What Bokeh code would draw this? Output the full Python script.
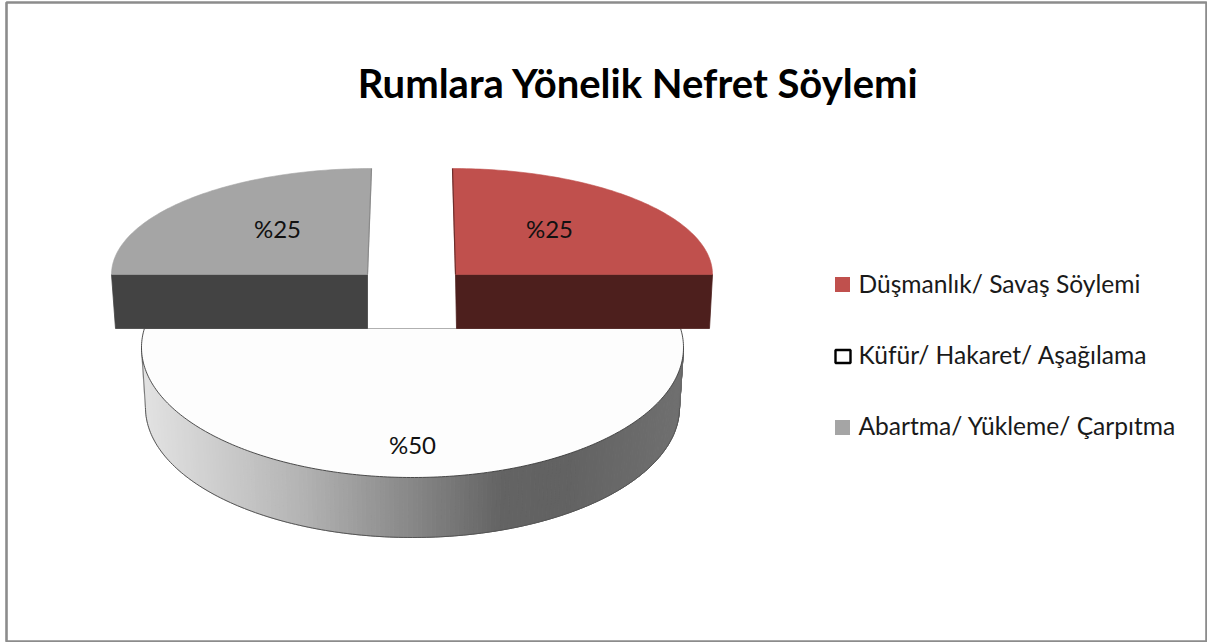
import numpy as np
from bokeh.plotting import figure
from bokeh.models import Range1d
from bokeh.core.properties import value
from bokeh.embed import file_html
from bokeh.resources import INLINE

title_text = "Rumlara Yönelik Nefret Söylemi"
categories = ["Düşmanlık/ Savaş Söylemi", "Küfür/ Hakaret/ Aşağılama", "Abartma/ Yükleme/ Çarpıtma"]
percent_values = [25, 50, 25]
percent_labels = ["%25", "%50", "%25"]

FONT = value("Lato")
W, H = 1207, 642
p = figure(width=W, height=H, x_range=Range1d(0, W), y_range=Range1d(H, 0),
           output_backend="svg", toolbar_location=None, min_border=0,
           x_axis_location=None, y_axis_location=None,
           styles={"position": "absolute", "left": "0px", "top": "0px"})
p.grid.visible = False
p.outline_line_color = None
p.background_fill_color = "white"
p.border_fill_color = "white"

# chart frame
p.quad(left=[6], right=[1206], top=[2], bottom=[641], fill_color="white",
       line_color="#8C8C8C", line_width=2.6)

# angles from the values (clockwise from 12 o'clock)
fr = np.array(percent_values, dtype=float) / sum(percent_values)
cum = np.concatenate([[0], np.cumsum(fr)])
th0 = 90 - 360 * cum[:-1]
th1 = 90 - 360 * cum[1:]


def ell(cx, cy, a, b, deg):
    r = np.radians(deg)
    return cx + a * np.cos(r), cy - b * np.sin(r)


# ---- white (front) slice: side with horizontal shading, then top
U = dict(cx=412, cy=347, a=271, b=130)
L = dict(cx=412, cy=407, a=267, b=130)
edges = np.linspace(th0[1], th1[1], 181)
stop_x = [145, 220, 300, 400, 500, 560, 680]
stop_g = [226, 205, 180, 140, 100, 98, 112]
xs, ys, cols = [], [], []
for d0, d1 in zip(edges[:-1], edges[1:]):
    ux, uy = ell(**U, deg=np.array([d0, d1]))
    lx, ly = ell(**L, deg=np.array([d0, d1]))
    xs.append([ux[0], ux[1], lx[1], lx[0]])
    ys.append([uy[0], uy[1], ly[1], ly[0]])
    g = int(np.interp((ux.mean() + lx.mean()) / 2, stop_x, stop_g))
    cols.append(f"#{g:02x}{g:02x}{g:02x}")
p.patches(xs, ys, fill_color=cols, line_color=cols, line_width=1)
bx, by = ell(**L, deg=edges)
p.line(bx, by, line_color="#555555", line_width=1)
lx_, ly_ = ell(**L, deg=np.array([th0[1]]))
ux_, uy_ = ell(**U, deg=np.array([th0[1]]))
p.line([ux_[0], lx_[0]], [uy_[0], ly_[0]], line_color="#666666", line_width=1)
ux_, uy_ = ell(**U, deg=np.array([th1[1]]))
lx_, ly_ = ell(**L, deg=np.array([th1[1]]))
p.line([ux_[0], lx_[0]], [uy_[0], ly_[0]], line_color="#777777", line_width=1)

cut_y = 328
ext = np.degrees(np.arcsin((U["cy"] - cut_y) / U["b"]))
wd = np.linspace(th0[1] + ext, th1[1] - ext, 240)
wx, wy = ell(**U, deg=wd)
p.patch(wx, wy, fill_color="#FDFDFD", line_color=None)
p.line(wx, wy, line_color="#3A3A3A", line_width=0.9)
p.line([wx[0], wx[-1]], [cut_y, cut_y], line_color="#B0B0B0", line_width=1)

# ---- two exploded rear slices
Rears = [
    dict(i=0, cx=452, cy=274, a=260, b=106, apex=455, off_in=456, off_out=709,
         top="#C0504D", front="#4D1F1D", edge="#6E2E2C"),
    dict(i=2, cx=371, cy=274, a=260, b=106, apex=367, off_in=367, off_out=115,
         top="#A5A5A5", front="#434343", edge="#8A8A8A"),
]
front_bottom = 328
for s in Rears:
    d = np.linspace(th0[s["i"]], th1[s["i"]], 90)
    ax, ay = ell(s["cx"], s["cy"], s["a"], s["b"], d)
    outer_x = ax[-1] if s["i"] == 0 else ax[0]
    p.patch([s["apex"], outer_x, s["off_out"], s["off_in"]],
            [s["cy"], s["cy"], front_bottom, front_bottom],
            fill_color=s["front"], line_color=s["front"], line_width=0.8)
    p.patch(np.r_[s["apex"], ax], np.r_[s["cy"], ay],
            fill_color=s["top"], line_color=s["top"], line_width=0.6)
    inner_x = ax[0] if s["i"] == 0 else ax[-1]
    inner_y = ay[0] if s["i"] == 0 else ay[-1]
    p.line([inner_x, s["apex"]], [inner_y, s["cy"]], line_color=s["edge"], line_width=1.2)

# ---- data labels
p.text([549, 412, 277], [228, 444, 228], text=percent_labels, text_font=FONT,
       text_font_size="24px", text_color="#111111", text_align="center",
       text_baseline="middle")

# ---- title
p.text([638], [82], text=[title_text], text_font=FONT, text_font_size="40px",
       text_font_style="bold", text_color="#000000", text_align="center",
       text_baseline="middle")

# ---- legend
leg_y = [284, 356, 427]
p.rect([842], [leg_y[0]], width=15, height=15, fill_color="#C0504D", line_color=None)
p.rect([842.5], [leg_y[1]], width=15, height=13, fill_color="white", line_color="#000000", line_width=2.4)
p.rect([842], [leg_y[2]], width=15, height=15, fill_color="#A5A5A5", line_color=None)
p.text([858] * 3, [283, 354, 425], text=categories, text_font=FONT, text_font_size="24.6px",
       text_color="#1A1A1A", text_align="left", text_baseline="middle")

open("out.html", "w").write(file_html(p, INLINE))
